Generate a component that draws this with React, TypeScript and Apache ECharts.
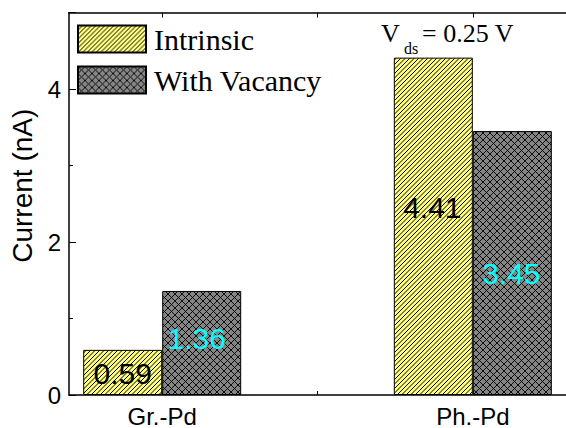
import React, { useEffect, useRef } from 'react';
import * as echarts from 'echarts';

// ---- data ----
const categories = ['Gr.-Pd', 'Ph.-Pd'];
const categoryPositions = [1, 2];
const seriesNames = ['Intrinsic', 'With Vacancy'];
const intrinsic = [0.59, 4.41];
const withVacancy = [1.36, 3.45];
const yTickLabels = [0, 2, 4];
const annotationMain = 'V';
const annotationSub = 'ds';
const annotationRest = '= 0.25 V';

const SANS = "'Liberation Sans', Arial, Helvetica, sans-serif";
const SERIF = "'Liberation Serif', 'Times New Roman', Times, serif";

function makeStripes(): HTMLCanvasElement {
  const s = 9;
  const c = document.createElement('canvas');
  c.width = s;
  c.height = s;
  const ctx = c.getContext('2d')!;
  ctx.fillStyle = '#FFFF80';
  ctx.fillRect(0, 0, s, s);
  ctx.strokeStyle = '#000';
  ctx.lineWidth = 1.0;
  for (let k = -4; k <= 8; k++) {
    const cc = k * 4.5;
    ctx.beginPath();
    ctx.moveTo(cc + 20, -20);
    ctx.lineTo(cc - 20, 20);
    ctx.stroke();
  }
  return c;
}

function makeCross(): HTMLCanvasElement {
  const s = 7;
  const c = document.createElement('canvas');
  c.width = s;
  c.height = s;
  const ctx = c.getContext('2d')!;
  ctx.fillStyle = '#858585';
  ctx.fillRect(0, 0, s, s);
  ctx.strokeStyle = '#000';
  ctx.lineWidth = 0.9;
  for (let k = -4; k <= 6; k++) {
    const cc = k * s;
    ctx.beginPath();
    ctx.moveTo(cc + 20, -20);
    ctx.lineTo(cc - 20, 20);
    ctx.stroke();
    ctx.beginPath();
    ctx.moveTo(cc - 20, -20);
    ctx.lineTo(cc + 20, 20);
    ctx.stroke();
  }
  return c;
}

export default function App() {
  const ref = useRef<HTMLDivElement>(null);

  useEffect(() => {
    if (!ref.current) return;
    const chart = echarts.init(ref.current, undefined, { renderer: 'svg' });

    const stripe = { image: makeStripes(), repeat: 'repeat' };
    const cross = { image: makeCross(), repeat: 'repeat' };

    const intrinsicOffsets = [[0, 1], [-1, -19]];
    const vacancyOffsets = [[-5, -4], [-1, 10]];

    const option: any = {
      animation: false,
      backgroundColor: '#fff',
      grid: { left: 69, top: 12.5, right: -8.6, bottom: 30.7, containLabel: false },
      legend: {
        left: 77,
        top: 24,
        orient: 'vertical',
        padding: 0,
        itemWidth: 68,
        itemHeight: 27,
        itemGap: 11,
        icon: 'rect',
        data: seriesNames,
        textStyle: {
          fontFamily: SERIF,
          fontSize: 30,
          color: '#000',
          lineHeight: 27,
          padding: [0, 0, 0, 3],
        },
      },
      xAxis: [
        {
          type: 'value',
          position: 'bottom',
          min: 0.7,
          max: 2.3,
          axisLine: { show: true, lineStyle: { color: '#000', width: 1.5 } },
          axisTick: {
            show: true,
            inside: true,
            length: 4,
            customValues: [1, 1.5, 2],
            lineStyle: { color: '#000', width: 1 },
          },
          axisLabel: {
            show: true,
            customValues: categoryPositions,
            formatter: (v: number) => categories[Math.round(v) - 1] ?? '',
            fontFamily: SANS,
            fontSize: 24,
            color: '#000',
            margin: 9,
          },
          splitLine: { show: false },
        },
        {
          type: 'value',
          position: 'top',
          min: 0.7,
          max: 2.3,
          axisLine: { show: true, lineStyle: { color: '#000', width: 1.5 } },
          axisTick: {
            show: true,
            inside: true,
            length: 5,
            customValues: [1, 1.5, 2],
            lineStyle: { color: '#000', width: 1 },
          },
          axisLabel: { show: false },
          splitLine: { show: false },
        },
      ],
      yAxis: {
        type: 'value',
        min: 0,
        max: 5,
        interval: 2,
        name: 'Current (nA)',
        nameLocation: 'middle',
        nameGap: 32,
        nameTextStyle: {
          fontFamily: SANS,
          fontSize: 28,
          color: '#000',
          padding: [0, 0, 0, 36],
        },
        axisLine: { show: true, lineStyle: { color: '#000', width: 1.5 } },
        axisTick: { show: true, inside: true, length: 7, lineStyle: { color: '#000', width: 1 } },
        minorTick: { show: true, splitNumber: 2, length: 4, lineStyle: { color: '#000', width: 1 } },
        axisLabel: {
          formatter: (v: number) => (yTickLabels.includes(v) ? String(v) : ''),
          fontFamily: SANS,
          fontSize: 24,
          color: '#000',
          margin: 8,
        },
        splitLine: { show: false },
        minorSplitLine: { show: false },
      },
      series: [
        {
          name: seriesNames[0],
          type: 'bar',
          xAxisIndex: 0,
          barWidth: 79,
          barGap: '0%',
          itemStyle: { color: stripe, borderColor: '#000', borderWidth: 1 },
          label: {
            show: true,
            position: 'inside',
            formatter: (p: any) => Number(p.value[1]).toFixed(2),
            fontFamily: SANS,
            fontSize: 30,
            color: '#000',
            textBorderWidth: 0,
          },
          data: intrinsic.map((v, i) => ({
            value: [categoryPositions[i], v],
            label: { offset: intrinsicOffsets[i] },
          })),
        },
        {
          name: seriesNames[1],
          type: 'bar',
          xAxisIndex: 0,
          barWidth: 79,
          barGap: '0%',
          itemStyle: { color: cross, borderColor: '#000', borderWidth: 1 },
          label: {
            show: true,
            position: 'inside',
            formatter: (p: any) => Number(p.value[1]).toFixed(2),
            fontFamily: SANS,
            fontSize: 30,
            color: '#00FFFF',
            textBorderWidth: 0,
          },
          data: withVacancy.map((v, i) => ({
            value: [categoryPositions[i], v],
            label: { offset: vacancyOffsets[i] },
          })),
        },
      ],
      graphic: [
        {
          type: 'text',
          x: 381,
          y: 33,
          style: {
            text: annotationMain,
            font: `26px ${SERIF}`,
            fill: '#000',
            textAlign: 'left',
            textVerticalAlign: 'middle',
          },
        },
        {
          type: 'text',
          x: 404,
          y: 48.5,
          style: {
            text: annotationSub,
            font: `16px ${SERIF}`,
            fill: '#000',
            textAlign: 'left',
            textVerticalAlign: 'middle',
          },
        },
        {
          type: 'text',
          x: 422,
          y: 33,
          style: {
            text: annotationRest,
            font: `26px ${SERIF}`,
            fill: '#000',
            textAlign: 'left',
            textVerticalAlign: 'middle',
          },
        },
      ],
    };

    chart.setOption(option);
    return () => chart.dispose();
  }, []);

  return (
    <div
      ref={ref}
      style={{ position: 'absolute', left: 0, top: 0, width: 566, height: 428, background: '#fff' }}
    />
  );
}
